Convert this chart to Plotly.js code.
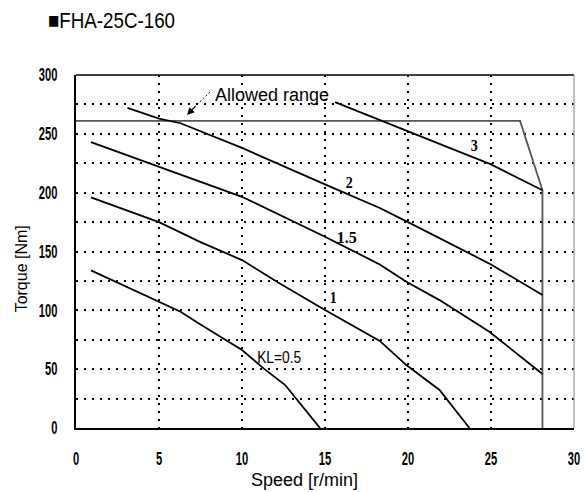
<!DOCTYPE html>
<html>
<head>
<meta charset="utf-8">
<script src="https://cdn.plot.ly/plotly-3.0.1.min.js"></script>
<style>html,body{margin:0;padding:0;background:#fff;}#chart{width:588px;height:492px;}</style>
</head>
<body>
<div id="chart"></div>
<script>
// Data
const speedKL3 = [15.6, 18.3, 20, 22.5, 25, 28.1];
const torqueKL3 = [277, 262, 252, 238, 224, 202];
const speedKL2 = [3.1, 5, 6.3, 10, 15, 18.3, 20, 23.2, 25, 28.1];
const torqueKL2 = [272, 263, 259, 238, 207, 187, 175, 152, 139, 113];
const speedKL15 = [0.9, 5, 6.3, 10, 15, 18.3, 19.9, 21.9, 24.9, 28.1];
const torqueKL15 = [243, 222, 215, 196.5, 162.5, 139, 124.3, 108.7, 81.8, 45.9];
const speedKL1 = [0.9, 5, 7.5, 10, 12.1, 15, 18.3, 19.9, 21.9, 23.7];
const torqueKL1 = [196, 175, 158, 142.7, 124.3, 100.3, 74, 53.5, 32.3, 0];
const speedKL05 = [0.9, 5, 6.3, 7.5, 8.9, 10, 11.3, 12.6, 13.0, 14.7];
const torqueKL05 = [134, 107.3, 98.8, 88, 76.2, 66.3, 50.7, 36.5, 29.5, 0];
const speedAllowed = [0, 26.75, 28.1, 28.1];
const torqueAllowed = [261, 261, 202, 0];

const curveLabels = ['3', '2', '1.5', '1', 'KL=0.5'];
const labelX = [24.0, 16.5, 16.3, 15.5, 12.2];
const labelY = [240, 209, 162, 110.5, 60];

const xTicks = [0, 5, 10, 15, 20, 25, 30];
const yTicks = [0, 50, 100, 150, 200, 250, 300];

const sans = '"Liberation Sans", Arial, sans-serif';
const serif = '"Liberation Serif", "Times New Roman", serif';

function curve(x, y) {
  return {x: x, y: y, type: 'scatter', mode: 'lines', line: {color: '#000', width: 1.8}, hoverinfo: 'skip', showlegend: false};
}

const traces = [
  {x: speedAllowed, y: torqueAllowed, type: 'scatter', mode: 'lines', line: {color: '#555', width: 1.8}, showlegend: false, hoverinfo: 'skip'},
  curve(speedKL3, torqueKL3),
  curve(speedKL2, torqueKL2),
  curve(speedKL15, torqueKL15),
  curve(speedKL1, torqueKL1),
  curve(speedKL05, torqueKL05)
];

const annotations = curveLabels.map((t, i) => ({
  x: labelX[i], y: labelY[i], xref: 'x', yref: 'y', text: t, showarrow: false,
  font: {family: i === 4 ? sans : serif, size: 17, color: '#000', weight: i === 4 ? 'normal' : 'bold'}
}));
annotations.push({x: 11.8, y: 283, xref: 'x', yref: 'y', text: 'Allowed range', showarrow: false,
  font: {family: sans, size: 18, color: '#000'}});
annotations.push({x: 6.69, y: 266, ax: 7.3, ay: 275, xref: 'x', yref: 'y', axref: 'x', ayref: 'y', text: '',
  showarrow: true, arrowhead: 2, arrowsize: 1.2, arrowwidth: 1.2, arrowcolor: '#000'});
annotations.push({x: 0.458, y: -0.147, xref: 'paper', yref: 'paper', xanchor: 'center', yanchor: 'middle',
  text: 'Speed [r/min]', showarrow: false, font: {family: sans, size: 18, color: '#000'}});
annotations.push({x: -0.110, y: 0.450, xref: 'paper', yref: 'paper', xanchor: 'center', yanchor: 'middle',
  text: 'Torque [Nm]', showarrow: false, textangle: -90, font: {family: sans, size: 16, color: '#000'}});

const gridDash = '2px,6px';
const tickFont = {family: sans, size: 18, color: '#000', weight: 'bold'};

const layout = {
  width: 588, height: 492,
  margin: {l: 76, r: 14, t: 75, b: 64},
  paper_bgcolor: '#fff', plot_bgcolor: '#fff',
  title: {text: '■FHA-25C-160', x: 48/588, xanchor: 'left', xref: 'container', y: 1 - 20/492, yanchor: 'middle', yref: 'container',
    font: {family: sans, size: 22, color: '#000'}},
  xaxis: {range: [0, 30], tickvals: xTicks, ticktext: xTicks.map(String), showline: true, linecolor: '#000', linewidth: 2,
    showgrid: true, gridcolor: '#000', gridwidth: 2, griddash: gridDash, zeroline: false,
    ticks: 'outside', ticklen: 13, tickcolor: 'rgba(0,0,0,0)', tickfont: tickFont},
  yaxis: {range: [0, 300], tickvals: yTicks, ticktext: yTicks.map(String), showline: true, linecolor: '#000', linewidth: 2,
    showgrid: true, gridcolor: '#000', gridwidth: 2, griddash: gridDash, zeroline: false,
    minor: {dtick: 25, tick0: 0, showgrid: true, gridcolor: '#000', gridwidth: 2, griddash: gridDash},
    ticks: 'outside', ticklen: 13, tickcolor: 'rgba(0,0,0,0)', tickfont: tickFont},
  shapes: [
    {type: 'line', xref: 'paper', yref: 'paper', x0: 0, x1: 1, y0: 1, y1: 1, line: {color: '#000', width: 1.6}, layer: 'above'},
    {type: 'line', xref: 'paper', yref: 'paper', x0: 1, x1: 1, y0: 0, y1: 1, line: {color: '#999', width: 1.2}, layer: 'above'},
    {type: 'line', xref: 'x', yref: 'y', x0: 8.07, y0: 285.5, x1: 7.3, y1: 275, line: {color: '#000', width: 1, dash: '2px,2px'}}
  ],
  annotations: annotations
};

function condense(el, width) {
  el.setAttribute('textLength', width);
  el.setAttribute('lengthAdjust', 'spacingAndGlyphs');
}

Plotly.newPlot('chart', traces, layout, {displayModeBar: false, staticPlot: true}).then(gd => {
  gd.querySelectorAll('.xtick text, .ytick text').forEach(t => condense(t, t.textContent.length * 6.2));
  const title = gd.querySelector('.gtitle');
  if (title) condense(title, 127);
  gd.querySelectorAll('.annotation-text').forEach(t => {
    const s = t.textContent;
    if (s === 'KL=0.5') condense(t, 44);
    else if (s === '1.5') condense(t, 20);
    else if (s === '3' || s === '2' || s === '1') condense(t, 7);
  });
});
</script>
</body>
</html>
